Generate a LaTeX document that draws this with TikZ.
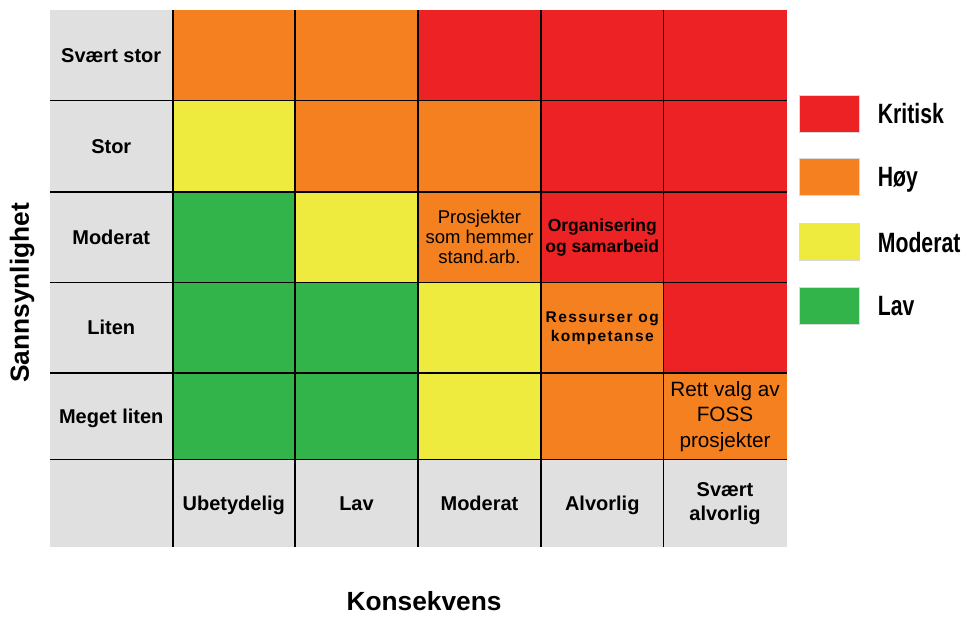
\documentclass[tikz,border=0pt]{standalone}
\usepackage{fontspec}
\setmainfont{Liberation Sans}
\newfontfamily\narrowfont[FakeStretch=0.76]{Liberation Sans}

\definecolor{riskred}{RGB}{237,34,36}
\definecolor{riskorange}{RGB}{244,128,32}
\definecolor{riskyellow}{RGB}{238,234,62}
\definecolor{riskgreen}{RGB}{50,180,75}
\definecolor{labelgray}{RGB}{224,224,224}

\begin{document}
\begin{tikzpicture}[x=1pt,y=-1pt,
  labeltwo/.style={font=\bfseries\fontsize{20}{24}\selectfont, align=center, inner sep=0pt},
  rowlabel/.style={labeltwo, text height=14.3pt, text depth=0pt},
  celltext/.style={font=\fontsize{18.5}{20}\selectfont, align=center, inner sep=0pt},
  cellbold/.style={font=\bfseries\fontsize{17.5}{21}\selectfont, align=center, inner sep=0pt},
  axislabel/.style={font=\bfseries\fontsize{26.3}{30}\selectfont, inner sep=0pt},
  legbox/.style={draw=black!15, line width=1pt, minimum width=59.7pt, minimum height=37.3pt, inner sep=0pt},
  legtext/.style={font=\narrowfont\bfseries\fontsize{27.9}{30}\selectfont, inner sep=0pt, anchor=base west},
  gridline/.style={line width=1.3pt}]
  \useasboundingbox (0,0) rectangle (966,617);

  % label cells
  \fill[labelgray] (50,10.5) rectangle (786.5,547);

  % Svaert stor
  \fill[riskorange] (172.5,10.5) rectangle (418,100.5);
  \fill[riskred] (418,10.5) rectangle (786.5,100.5);
  % Stor
  \fill[riskyellow] (172.5,100.5) rectangle (295,192);
  \fill[riskorange] (295,100.5) rectangle (541,192);
  \fill[riskred] (541,100.5) rectangle (786.5,192);
  % Moderat
  \fill[riskgreen] (172.5,192) rectangle (295,282.5);
  \fill[riskyellow] (295,192) rectangle (418,282.5);
  \fill[riskorange] (418,192) rectangle (541,282.5);
  \fill[riskred] (541,192) rectangle (786.5,282.5);
  % Liten
  \fill[riskgreen] (172.5,282.5) rectangle (418,373);
  \fill[riskyellow] (418,282.5) rectangle (541,373);
  \fill[riskorange] (541,282.5) rectangle (663.5,373);
  \fill[riskred] (663.5,282.5) rectangle (786.5,373);
  % Meget liten
  \fill[riskgreen] (172.5,373) rectangle (418,459.5);
  \fill[riskyellow] (418,373) rectangle (541,459.5);
  \fill[riskorange] (541,373) rectangle (786.5,459.5);

  % grid
  \draw[line width=2pt] (172.5,10.5) -- (172.5,547);
  \draw[gridline] (295,10.5) -- (295,547);
  \draw[gridline] (418,10.5) -- (418,547);
  \draw[gridline] (541,10.5) -- (541,547);
  \draw[gridline] (663.5,10.5) -- (663.5,547);
  \draw[gridline] (50,100.5) -- (786.5,100.5);
  \draw[gridline] (50,192) -- (786.5,192);
  \draw[gridline] (50,282.5) -- (786.5,282.5);
  \draw[gridline] (50,373) -- (786.5,373);
  \draw[gridline] (50,459.5) -- (786.5,459.5);

  \node[rowlabel] (sstor) at (111.25,55.5) {Svært stor};
  \node[rowlabel] (stor) at (111.25,146.25) {Stor};
  \node[rowlabel] (moderat) at (111.25,237.25) {Moderat};
  \node[rowlabel] (liten) at (111.25,327.75) {Liten};
  \node[rowlabel] (mliten) at (111.25,416.25) {Meget liten};

  \node[rowlabel] (ubetydelig) at (233.75,503.25) {Ubetydelig};
  \node[rowlabel] (lav) at (356.5,503.25) {Lav};
  \node[rowlabel] (kmoderat) at (479.5,503.25) {Moderat};
  \node[rowlabel] (alvorlig) at (602.25,503.25) {Alvorlig};
  \node[labeltwo] (salvorlig) at (725,503.25) {Svært\\alvorlig};

  \node[celltext] (standarb) at (479.5,237.25) {Prosjekter\\som hemmer\\stand.arb.};
  \node[cellbold] (organisering) at (602.25,237.25) {Organisering\\og samarbeid};
  \node[cellbold, font=\bfseries\fontsize{15.5}{19}\selectfont\addfontfeatures{LetterSpace=9}] (ressurser) at (602.25,328) {Ressurser og\\kompetanse};
  \node[celltext, font=\fontsize{20.7}{25.5}\selectfont] (foss) at (725,416.5) {Rett valg av\\FOSS\\prosjekter};

  \node[axislabel, rotate=90, anchor=base] (yaxis) at (28.8,293) {Sannsynlighet};
  \node[axislabel, anchor=base] (xaxis) at (424,610) {Konsekvens};

  % legend
  \node[legbox, fill=riskred] (kritiskbox) at (829.2,113.7) {};
  \node[legbox, fill=riskorange] (hoybox) at (829.2,177) {};
  \node[legbox, fill=riskyellow] (moderatbox) at (829.2,242.2) {};
  \node[legbox, fill=riskgreen] (lavbox) at (829.2,305.9) {};
  \node[legtext] (kritisk) at (877.7,123.5) {Kritisk};
  \node[legtext] (hoy) at (877.7,187) {Høy};
  \node[legtext] (lmoderat) at (877.7,252.2) {Moderat};
  \node[legtext] (llav) at (877.7,315.9) {Lav};
\end{tikzpicture}
\end{document}
